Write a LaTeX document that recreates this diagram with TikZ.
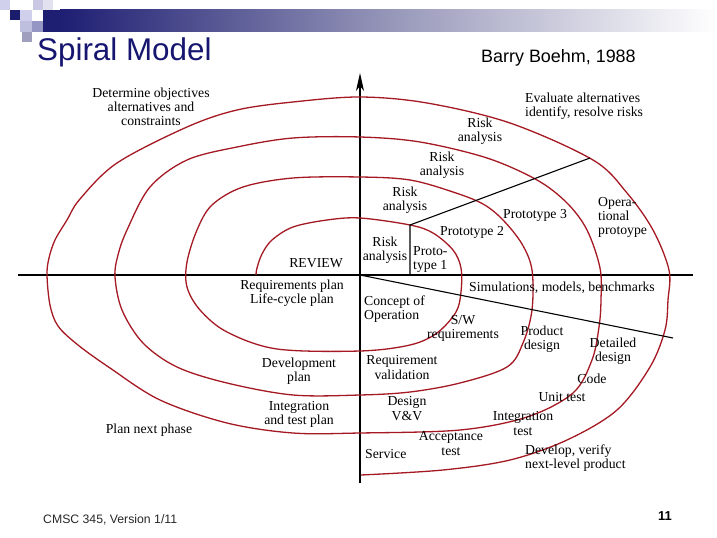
\documentclass[tikz,border=0pt]{standalone}
\usepackage{fontspec}
\setmainfont{Liberation Serif}
\newfontfamily\arialf{Liberation Sans}
\usetikzlibrary{arrows.meta}
\definecolor{spiralred}{RGB}{165,25,35}
\definecolor{navyt}{RGB}{22,22,112}
\definecolor{navysq}{RGB}{28,28,108}
\definecolor{barnavy}{RGB}{30,30,115}
\definecolor{barmid}{RGB}{150,150,185}
\definecolor{lightsq}{RGB}{208,208,236}
\definecolor{lightsqb}{RGB}{200,200,228}
\definecolor{lightsqc}{RGB}{225,225,240}
\definecolor{lightsqd}{RGB}{190,190,222}
\definecolor{midsq}{RGB}{150,150,196}
\definecolor{greysq}{RGB}{160,160,190}
\definecolor{footgrey}{RGB}{40,40,40}
\begin{document}
\begin{tikzpicture}[x=1bp,y=-1bp,
  lbl/.style={font=\fontsize{13.8}{14.2}\selectfont, align=center, inner sep=0pt},
  lbll/.style={lbl, align=left, anchor=west},
  spiralline/.style={draw=spiralred, line width=1.3bp, line join=round},
  axisline/.style={draw=black, line width=1.2bp},
  divline/.style={draw=black, line width=1.1bp}]
\useasboundingbox (0,0) rectangle (717,538);
\fill[white] (0,0) rectangle (717,538);

% header decoration
\shade[left color=barnavy, right color=white, middle color=barmid] (60,10) rectangle (717,32);
\fill[barnavy] (43,10) rectangle (60.5,32);
\fill[lightsq] (0,0) rectangle (10,10);
\fill[navysq] (10,10) rectangle (20,20);
\fill[lightsq] (20,10) rectangle (32,21);
\fill[lightsqb] (33,0) rectangle (43,10);
\fill[lightsqc] (43,0) rectangle (53,10);
\fill[lightsqd] (20,21) rectangle (32,32);
\fill[midsq] (32,21) rectangle (43,32);
\fill[greysq] (22,32) rectangle (32,42);

% titles
\node[anchor=base west, inner sep=0pt, text=navyt, font=\arialf\fontsize{31.5}{34}\selectfont] (title) at (37,61) {Spiral Model};
\node[anchor=base west, inner sep=0pt, font=\arialf\fontsize{18}{20}\selectfont] (author) at (481,63) {Barry Boehm, 1988};
\node[anchor=base west, inner sep=0pt, text=footgrey, font=\arialf\fontsize{12.3}{14}\selectfont] (footer) at (43,523) {CMSC 345, Version 1/11};
\node[anchor=base east, inner sep=0pt, font=\arialf\bfseries\fontsize{13}{14}\selectfont] (pagenum) at (672,520) {11};

% axes
\coordinate (axB) at (360,483);
\coordinate (axT) at (360,73);
\coordinate (axL) at (18,275);
\coordinate (axR) at (693,275);
\draw[axisline, -{Stealth[length=18bp,width=8bp,inset=5bp]}] (axB) -- (axT);
\draw[axisline] (axL) -- (axR);

% spiral
\draw[spiralline] plot[smooth, tension=0.55] coordinates {
 (256,275) (257,268) (262,254) (272,240) (293,227) (327,220) (360,218)
 (410,225) (433,233) (453,250) (461,268) (461,292) (456,312) (437,333) (410,345) (360,351)
 (277,349) (227,332) (200,310) (187,287) (187,262) (197,230) (212,205) (243,187) (293,178) (360,177)
 (410,180) (453,192) (483,204) (503,220) (522,244) (532,270) (532,310) (523,343) (507,367) (460,383) (410,392) (360,395)
 (293,395) (227,383) (177,367) (143,343) (122,310) (115,277) (118,255) (127,230) (150,187) (187,160) (237,147) (293,138) (360,137)
 (420,142) (487,158) (537,180) (567,203) (587,230) (600,268) (601,300) (599,327) (592,360) (573,393) (527,417) (460,430) (360,433)
 (293,433) (227,423) (160,400) (110,368) (78,345) (58,326) (50,305) (47,275) (49,258) (55,240) (67,220) (80,199) (117,163) (187,127) (237,110) (293,102) (360,97)
 (427,103) (510,123) (593,160) (627,193) (653,230) (669,270) (668,300) (665,330) (650,367) (617,410) (567,440) (510,460) (443,470) (361,475)
};

% dividing lines
\coordinate (pv1) at (410,225);
\coordinate (pv2) at (410,275);
\coordinate (pd) at (590,158);
\coordinate (bd1) at (360,275);
\coordinate (bd2) at (673,338);
\draw[divline] (pv2) -- (pv1) -- (pd);
\draw[divline] (bd1) -- (bd2);

% labels
\node[lbl] (det) at (151,107) {Determine objectives\\alternatives and\\constraints};
\node[lbll] (eval) at (525,106.5) {Evaluate alternatives\\identify, resolve risks};
\node[lbl] (risk1) at (480,131.5) {Risk\\analysis};
\node[lbl] (risk2) at (442,165.5) {Risk\\analysis};
\node[lbl] (risk3) at (405,200.5) {Risk\\analysis};
\node[lbl] (risk4) at (385,250) {Risk\\analysis};
\node[lbll] (proto1) at (413,259.5) {Proto-\\type 1};
\node[lbl] (proto2) at (472,232) {Prototype 2};
\node[lbl] (proto3) at (535,215) {Prototype 3};
\node[lbll] (opera) at (598,217.5) {Opera-\\tional\\protoype};
\node[lbl] (review) at (316,263) {REVIEW};
\node[lbl] (reqplan) at (292,293.5) {Requirements plan\\Life-cycle plan};
\node[lbl] (devplan) at (299,371.5) {Development\\plan};
\node[lbl] (intplan) at (299,414) {Integration\\and test plan};
\node[lbl] (plannext) at (149,430) {Plan next phase};
\node[lbl] (sim) at (562,288) {Simulations, models, benchmarks};
\node[lbll] (concept) at (364,309) {Concept of\\Operation};
\node[lbl] (sw) at (463,328) {S/W\\requirements};
\node[lbl] (product) at (542,339.5) {Product\\design};
\node[lbl] (detailed) at (613,351) {Detailed\\design};
\node[lbl] (reqval) at (402,367.5) {Requirement\\validation};
\node[lbl] (code) at (592,379) {Code};
\node[lbl] (unit) at (562,397) {Unit test};
\node[lbl] (design) at (407,408.5) {Design\\V\&V};
\node[lbl] (inttest) at (523,423.5) {Integration\\test};
\node[lbl] (accept) at (451,443.5) {Acceptance\\test};
\node[lbll] (service) at (365,454) {Service};
\node[lbll] (develop) at (525,458) {Develop, verify\\next-level product};
\end{tikzpicture}
\end{document}
